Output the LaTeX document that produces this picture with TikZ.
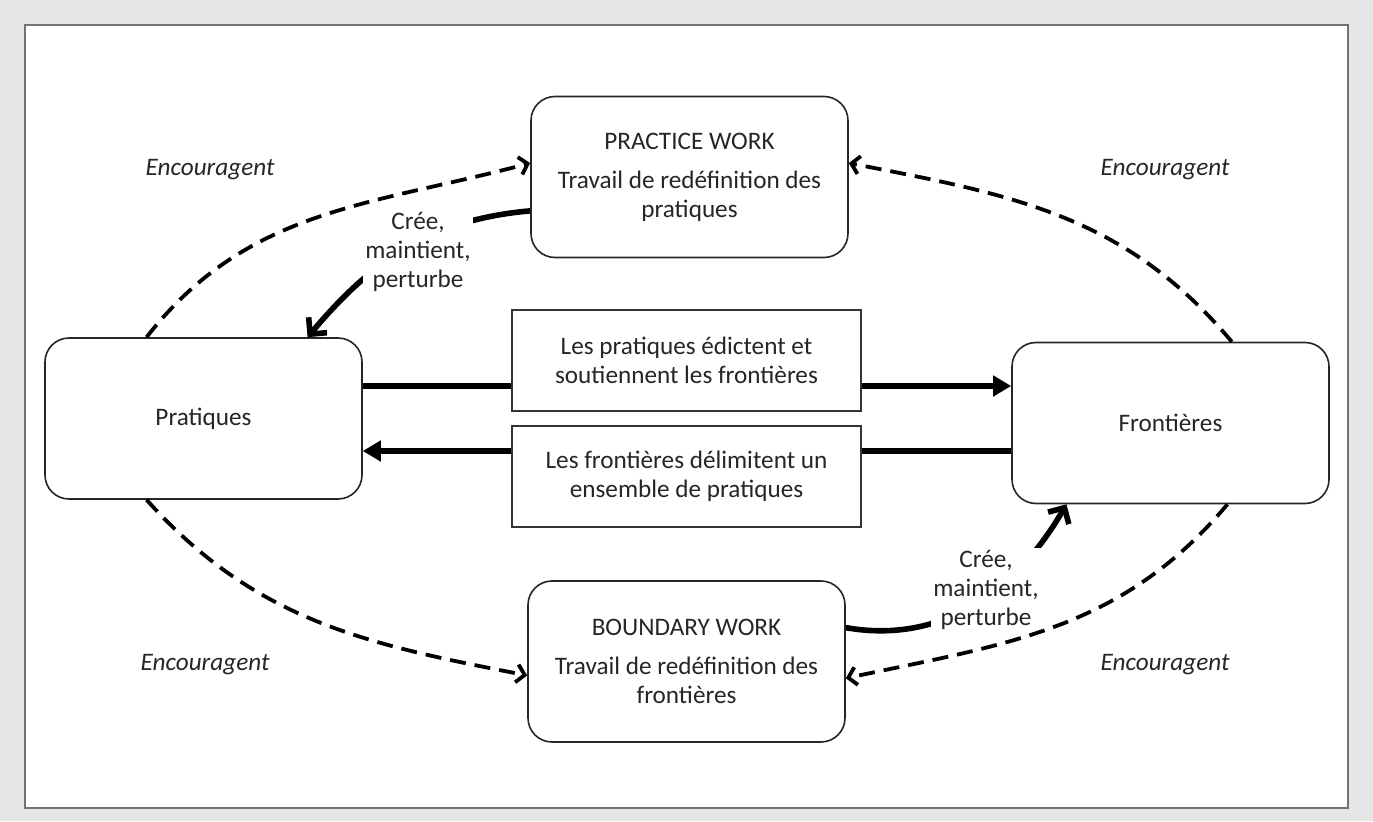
\documentclass[tikz,border=0pt]{standalone}
\usepackage{fontspec}
\setmainfont{Carlito}
\usepackage{xcolor}
\usetikzlibrary{positioning, arrows.meta}

\definecolor{fond}{HTML}{E6E6E6}
\definecolor{texte}{HTML}{262626}

\tikzset{
  bloc/.style={draw=black!85, line width=0.8pt, rounded corners=12pt, fill=white,
    minimum width=158.5pt, minimum height=80.5pt, align=center, text=texte},
  cadre/.style={draw=black!80, line width=0.7pt, fill=white,
    minimum width=174.5pt, minimum height=50.5pt, align=center, text=texte},
  fleche/.style={line width=2.8pt, -{Triangle[length=9pt,width=10pt]}},
  agit/.style={line width=2.8pt, -{Straight Barb[length=6pt,width=12pt]}},
  encourage/.style={line width=1.9pt, dash pattern=on 8pt off 4.5pt,
    -{Straight Barb[length=4pt,width=9pt]}},
  etiquette/.style={text=texte, font=\fontsize{12.6}{14.5}\selectfont\itshape},
  effet/.style={fill=white, inner sep=1pt, align=center, text=texte}
}

\begin{document}
\begin{tikzpicture}[x=0.5pt, y=0.5pt, font=\fontsize{12.6}{14.5}\selectfont]
% fond et cadre
\fill[fond] (0,0) rectangle (1373,821);
\draw[fill=white, draw=black!55, line width=0.8pt] (25,13) rectangle (1348,796);

% les quatre blocs
\node[bloc] (prat) at (203.5,402.5) {Pratiques};
\node[bloc] (front) at (1170.5,398) {Frontières};
\node[bloc] (pw) at (689.5,644) {PRACTICE WORK\\[5pt]Travail de redéfinition des\\pratiques};
\node[bloc] (bw) at (686.5,159.5) {BOUNDARY WORK\\[5pt]Travail de redéfinition des\\frontières};

% fleches horizontales, derriere les cadres
\draw[fleche] (prat.east |- 0,435) -- (front.west |- 0,435);
\draw[fleche] (front.west |- 0,370) -- (prat.east |- 0,370);
\node[cadre] (edicte) at (686.5,460.5) {Les pratiques édictent et\\soutiennent les frontières};
\node[cadre] (delimite) at (686.5,344.5) {Les frontières délimitent un\\ensemble de pratiques};

% cree, maintient, perturbe
\draw[agit] (pw.192) to[out=185,in=50] (prat.38);
\draw[agit] (bw.12) to[out=-10,in=240] (front.218);
\node[effet] (effet1) at (418,569) {Crée,\\maintient,\\perturbe};
\node[effet] (effet2) at (986,231) {Crée,\\maintient,\\perturbe};

% encouragent
\draw[encourage] (prat.125) to[out=52,in=195] (pw.175);
\draw[encourage] (front.53) to[out=130,in=-11] (pw.5);
\draw[encourage] (prat.235) to[out=-48,in=169] (bw.185);
\draw[encourage] (front.305) to[out=-130,in=12] (bw.354);
\node[etiquette] (enc1) at (210,651) {Encouragent};
\node[etiquette] (enc2) at (1165,651) {Encouragent};
\node[etiquette] (enc3) at (205,156) {Encouragent};
\node[etiquette] (enc4) at (1165,156) {Encouragent};
\end{tikzpicture}
\end{document}
